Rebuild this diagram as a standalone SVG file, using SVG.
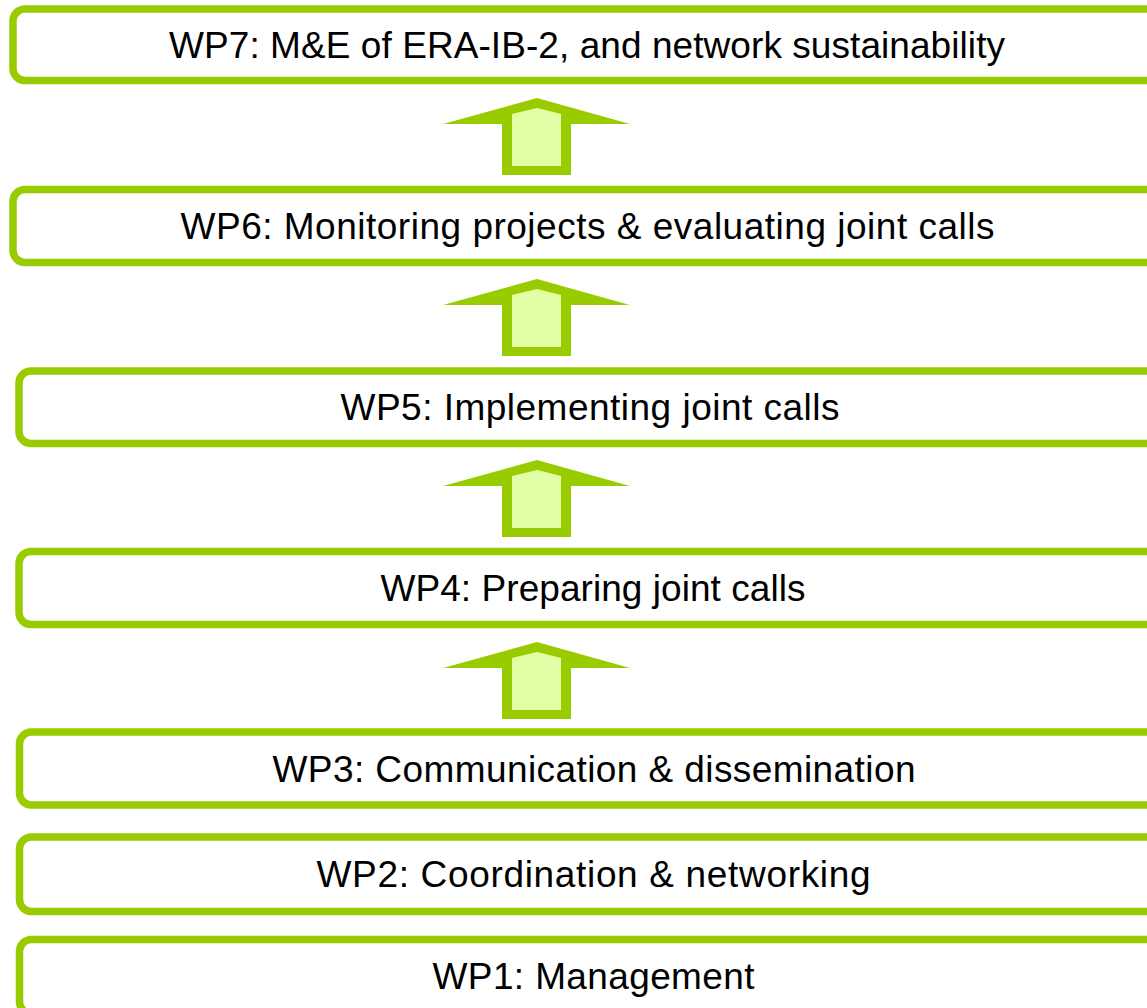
<svg xmlns="http://www.w3.org/2000/svg" width="1147" height="1008" viewBox="0 0 1147 1008">
<defs>
<style>
.box{fill:#FFFFFF;stroke:#99CC00;stroke-width:7.5}
.lbl{font-family:"Liberation Sans",Arial,sans-serif;font-size:37px;fill:#000000;text-anchor:middle}
.aout{fill:#99CC00}
.ain{fill:#E2FFA6}
</style>
</defs>
<rect width="1147" height="1008" fill="#FFFFFF"/>
<g id="connectors">
<g transform="translate(0,98)">
<polygon class="aout" points="443,26 537,0 630,26 571,26 571,77 502,77 502,26"/>
<polygon class="ain" points="512,16 537,10 561,16 561,68 512,68"/>
</g>
<g transform="translate(0,279)">
<polygon class="aout" points="443,26 537,0 630,26 571,26 571,77 502,77 502,26"/>
<polygon class="ain" points="512,16 537,10 561,16 561,68 512,68"/>
</g>
<g transform="translate(0,460)">
<polygon class="aout" points="443,26 537,0 630,26 571,26 571,77 502,77 502,26"/>
<polygon class="ain" points="512,16 537,10 561,16 561,68 512,68"/>
</g>
<g transform="translate(0,642)">
<polygon class="aout" points="443,26 537,0 630,26 571,26 571,77 502,77 502,26"/>
<polygon class="ain" points="512,16 537,10 561,16 561,68 512,68"/>
</g>
</g>
<g id="wp7">
<rect class="box" x="13" y="9" width="1148" height="71.5" rx="12"/>
<text class="lbl" x="587" y="57.5" textLength="836" lengthAdjust="spacing">WP7: M&amp;E of ERA-IB-2, and network sustainability</text>
</g>
<g id="wp6">
<rect class="box" x="13" y="189.5" width="1148" height="73" rx="12"/>
<text class="lbl" x="587.5" y="239" textLength="814" lengthAdjust="spacing">WP6: Monitoring projects &amp; evaluating joint calls</text>
</g>
<g id="wp5">
<rect class="box" x="19" y="371" width="1148" height="72.5" rx="12"/>
<text class="lbl" x="590" y="420" textLength="499" lengthAdjust="spacing">WP5: Implementing joint calls</text>
</g>
<g id="wp4">
<rect class="box" x="19" y="551.5" width="1148" height="73" rx="12"/>
<text class="lbl" x="593" y="601" textLength="425" lengthAdjust="spacing">WP4: Preparing joint calls</text>
</g>
<g id="wp3">
<rect class="box" x="19.5" y="732" width="1148" height="73" rx="12"/>
<text class="lbl" x="594" y="781.5" textLength="643" lengthAdjust="spacing">WP3: Communication &amp; dissemination</text>
</g>
<g id="wp2">
<rect class="box" x="19.5" y="837" width="1148" height="74.5" rx="12"/>
<text class="lbl" x="593.5" y="887" textLength="554" lengthAdjust="spacing">WP2: Coordination &amp; networking</text>
</g>
<g id="wp1">
<rect class="box" x="19.5" y="939.5" width="1148" height="74" rx="12"/>
<text class="lbl" x="593.5" y="989" textLength="322" lengthAdjust="spacing">WP1: Management</text>
</g>
</svg>
